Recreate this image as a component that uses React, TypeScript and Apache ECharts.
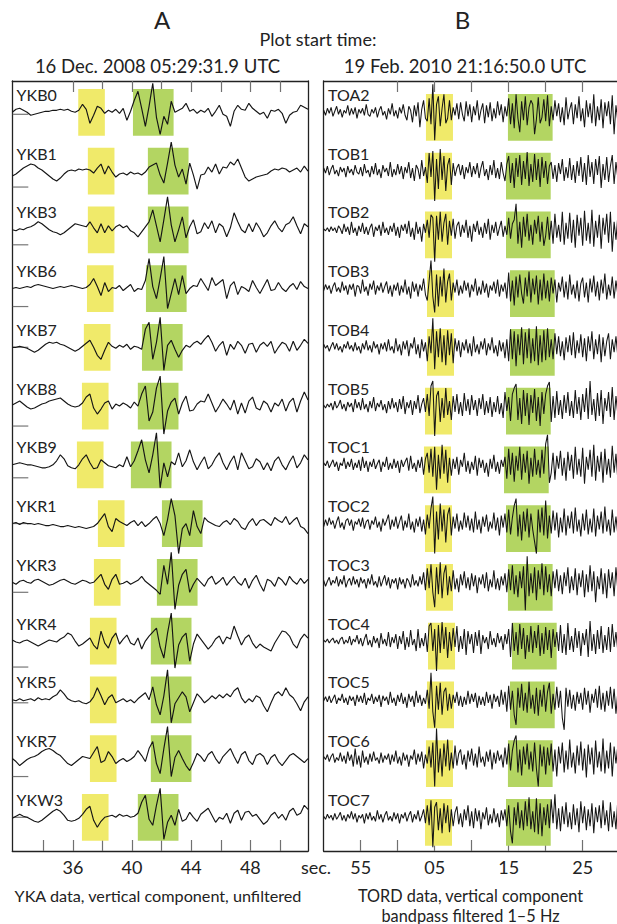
import React, { useEffect, useRef } from "react";
import * as echarts from "echarts";

const W = 617;
const H = 924;

const stationsA = ["YKB0", "YKB1", "YKB3", "YKB6", "YKB7", "YKB8", "YKB9", "YKR1", "YKR3", "YKR4", "YKR5", "YKR7", "YKW3"];
const stationsB = ["TOA2", "TOB1", "TOB2", "TOB3", "TOB4", "TOB5", "TOC1", "TOC2", "TOC3", "TOC4", "TOC5", "TOC6", "TOC7"];

const startA = 31.9;
const endA = 51.9;
const stepA = 0.25;
const startB = 50.0;
const endB = 89.64;
const stepB = 0.25;

const yellowStartA = [36.36, 37.01, 37.01, 36.95, 36.74, 36.61, 36.27, 37.69, 37.42, 37.15, 37.15, 37.15, 36.61];
const greenStartA = [40.06, 41.07, 41.07, 40.94, 40.67, 40.39, 39.92, 42.02, 41.68, 41.27, 41.27, 41.27, 40.39];
const yellowLenA = 1.8;
const greenLenA = 2.75;
const yellowStartB = [63.82, 63.69, 63.69, 63.96, 63.96, 63.69, 63.55, 63.69, 63.82, 64.1, 63.96, 63.82, 63.69];
const greenStartB = [74.9, 74.64, 74.64, 75.18, 75.18, 74.64, 74.37, 74.64, 74.9, 75.45, 75.18, 74.9, 74.64];
const yellowLenB = 3.65;
const greenLenB = 6.04;

// level of the small grey marker at the start of each A trace (amplitude units)
const zeroMarkA = [-2, -16, -15, -18, 0, -20, -13, 0, -10, -26, -3, -18, 0];

const tickValuesA = [34, 36, 38, 40, 42, 44, 46, 48, 50];
const topTickValuesA = [36, 38, 40, 42, 44, 46, 48, 50];
const labelValuesA = [36, 40, 44, 48];
const labelTextA = ["36", "40", "44", "48"];
const tickValuesB = [55, 60, 65, 70, 75, 80, 85];
const topTickValuesB = [60, 65, 70, 75, 80, 85];
const labelValuesB = [55, 65, 75, 85];
const labelTextB = ["55", "05", "15", "25"];

// ---------- Panel A waveforms (YKA, unfiltered), 0.25 s samples from 31.9 s ----------
const ykb0 = [0,3,4,2,0,-3,-2,-1,0,1,1,2,2,3,2,3,1,0,2,8,
  3,-11,-3,6,4,-1,2,0,3,-1,4,-8,1,12,21,4,-14,6,29,-5,
  -22,-4,-12,11,0,2,4,9,1,3,-1,2,0,4,-4,1,7,-2,-4,-14,
  1,7,3,2,9,4,1,-2,0,-6,2,1,3,-1,-11,-3,0,1,7,5,3];
const ykb1 = [-5,-3,0,3,5,7,6,3,1,-2,-5,-8,-10,-7,-3,0,1,0,2,1,
  2,1,-2,3,7,-3,5,-1,-6,-3,-2,-4,-1,-3,-2,-4,-1,4,6,8,
  -4,-12,8,29,6,-6,2,-13,8,-4,-18,-4,-3,4,-1,7,-3,4,3,9,
  6,12,3,-6,-10,-8,-6,-5,-4,-3,0,2,1,3,2,-1,1,3,-1,5,0];
const ykb3 = [0,-1,1,0,2,3,5,8,6,3,0,-2,-3,-5,-3,0,3,6,5,4,
  3,8,2,-3,6,-3,4,-1,3,5,2,4,-1,-3,-7,-2,3,8,20,4,
  -12,10,33,5,-12,0,13,-8,3,10,-4,-2,7,1,9,-3,6,3,-7,2,
  17,8,0,-3,6,-2,7,1,-7,-3,4,9,2,-2,5,7,13,4,-4,6,3];
const ykb6 = [0,1,0,1,2,1,3,4,3,2,1,0,1,2,1,2,3,2,1,0,
  1,4,10,2,-7,6,-3,1,0,3,-2,1,4,-3,0,-1,8,30,2,-10,
  10,32,-20,-5,10,-6,13,-5,0,3,2,10,4,-2,11,3,6,9,-10,3,
  7,-6,2,0,-3,8,1,-5,2,9,-2,-1,6,0,-3,2,5,-1,7,2,0];
const ykb7 = [0,0,1,0,-1,-3,-5,-3,0,3,5,4,5,3,2,0,-2,-4,-2,1,
  4,7,0,-8,-12,-3,5,1,-1,2,0,3,-2,1,0,-2,18,25,-12,5,
  30,-23,2,7,-2,-10,-3,2,0,4,6,3,8,12,5,-4,2,6,-8,3,
  -2,6,2,-6,3,4,-5,2,5,1,6,-6,0,5,3,-4,6,-3,2,8,4];
const ykb8 = [1,3,5,2,-1,-3,-2,0,2,3,5,6,7,8,5,2,0,-1,0,3,
  9,12,-2,-8,-3,3,5,-3,2,0,3,1,-2,4,0,12,20,-15,-6,18,
  30,-28,-5,4,8,-8,3,10,-5,-4,2,5,4,12,3,-6,0,7,2,-4,
  6,-8,3,-7,5,9,-2,-4,5,2,-6,3,0,7,-5,4,8,-6,5,14,6];
const ykb9 = [0,1,2,1,0,0,-1,-2,-3,-3,-2,0,4,10,6,-1,-3,-4,0,6,
  10,2,-4,-3,5,2,-1,-2,-3,0,-2,8,-2,4,14,25,5,-8,10,32,
  -23,2,-12,3,0,12,-2,4,15,3,-5,2,8,-4,0,7,12,2,-5,3,
  9,-5,12,4,-4,-2,6,3,-5,2,-6,4,8,0,-5,3,9,-3,2,10,5];
const ykr1 = [0,1,-1,1,0,0,-1,0,-1,-2,-2,-1,-2,-3,-3,-2,-3,-4,-3,-4,
  -5,-4,-3,0,5,10,-3,-8,5,2,0,-2,1,3,-2,2,-3,0,4,7,
  0,-12,4,25,8,-30,-5,0,-12,13,-3,-10,6,2,0,-2,-3,1,3,-1,
  5,2,-4,-6,1,5,-2,3,4,1,-2,6,3,1,7,-1,3,6,-3,-5,-10];
const ykr3 = [0,-2,1,2,0,-1,2,3,1,-1,-3,-2,0,2,3,1,-1,-2,0,2,
  1,-1,0,4,8,-2,-7,3,8,-2,-1,1,-2,0,2,6,1,-2,-5,-8,
  -12,17,-2,30,-27,-3,8,13,-10,-2,4,0,-4,3,6,-2,1,5,-3,2,
  6,0,-3,4,-6,2,7,-2,-9,3,1,-4,5,2,-3,6,1,-2,4,-1,3];
const ykr4 = [1,-1,-2,0,1,-1,-3,-5,-3,-1,1,0,-1,2,4,8,6,0,-5,-3,
  0,3,-4,-8,10,-2,-7,3,8,-3,2,6,-2,-4,3,-8,0,5,9,13,
  -6,-17,8,28,-27,-4,4,8,-20,-3,7,2,-3,-8,-4,2,5,-3,4,2,
  15,5,-4,3,6,-2,-7,-3,-6,-8,-10,-2,4,10,9,5,-3,-7,2,7,3];
const ykr5 = [0,-1,1,-1,0,1,-1,2,0,1,0,3,5,10,6,1,-1,-2,-1,-3,
  -4,-2,3,12,4,-5,2,5,-3,-1,1,-2,0,-3,1,4,7,0,13,-5,
  -15,4,30,-23,-4,2,8,3,-12,-3,6,2,-3,0,4,1,5,2,6,3,
  9,12,2,-3,1,-2,4,2,-6,-12,-3,5,8,4,12,5,2,-4,-11,-2,3];
const ykr7 = [0,-3,-7,-4,-1,1,2,4,7,9,10,8,5,3,-1,-5,-7,-4,-1,2,
  1,0,6,12,-4,-2,7,2,-5,-2,0,-3,-1,2,8,3,-3,10,17,-5,
  -15,10,32,-18,1,8,0,-7,-12,-4,5,2,-3,4,7,0,-5,2,6,10,
  2,-5,4,7,-2,-6,3,5,2,-6,1,4,-3,-7,-2,3,5,2,-1,-4,0];
const ykw3 = [-1,1,3,1,0,-2,-4,-5,-3,0,3,6,8,6,2,-3,-4,-3,-1,3,
  8,11,-3,-10,-4,0,1,2,0,3,1,2,0,1,4,15,22,-2,-8,12,
  29,-22,-5,2,-8,8,-4,-2,5,0,-4,3,6,9,2,-5,0,-2,4,-6,
  4,7,-3,5,6,1,3,-2,-7,-4,2,5,-1,3,-3,6,9,2,4,12,8];

// ---------- Panel B waveforms (TORD, 1-5 Hz), 0.25 s samples from 21:16:50 ----------
const toa2 = [2,-3,4,-1,5,-4,1,6,-2,3,-5,2,-1,7,-3,4,-2,5,-6,3,
  -1,4,-3,8,-2,-4,3,-1,5,-5,2,6,-3,1,-7,4,-2,9,-4,2,
  -6,5,-1,8,-3,-8,6,2,-10,7,-4,10,-15,3,12,-6,-9,14,-12,28,
  -28,8,16,-14,4,18,-11,-6,12,-8,5,-3,9,-7,10,-2,-9,11,-4,8,
  -10,6,-3,12,-8,2,9,-11,7,-5,10,-9,4,-6,11,-3,8,-10,6,-4,
  14,-12,9,-16,18,-6,-20,11,-8,16,-13,5,12,8,-22,-7,15,-11,-5,13,
  -9,17,-14,6,-8,12,-4,9,-10,5,-13,15,-7,3,10,-12,8,-6,16,-9,
  4,-15,12,-5,9,-11,18,-14,6,-8,13,-16,10,-4,11,-12,17,-22,7,-9];
const tob1 = [3,-2,5,-4,2,6,-3,1,-5,4,-1,3,-6,5,-2,2,-4,6,-1,-3,
  4,-5,7,-2,1,-6,5,-3,8,-4,2,-7,6,-1,3,-5,9,-6,2,-4,
  7,-3,5,-8,4,-2,9,-7,3,-10,6,2,-8,11,-5,4,-12,18,-6,20,
  -30,12,-18,22,-9,15,-20,6,13,-14,8,-5,3,7,-4,6,-8,4,-2,9,
  -6,5,-3,8,-7,3,10,-5,2,-9,6,-4,11,-7,3,-8,9,-2,-10,7,
  15,-12,8,-17,13,-6,16,-14,10,-8,19,-15,7,-11,17,-9,12,-16,14,-7,
  10,-13,5,9,-8,6,-11,8,-3,12,-10,4,-7,13,-9,6,-12,10,-5,14,
  -11,8,-14,16,-6,9,-13,12,-4,15,-17,7,-9,14,-11,5,16,-13,9,-7];
const tob2 = [1,-1,2,-2,3,-1,2,-3,4,1,-4,6,-2,3,-5,8,-3,2,-6,4,
  -2,7,-4,3,-5,2,6,-7,3,-1,5,-6,8,-3,2,-5,4,-2,7,-6,
  3,-8,5,-1,6,-4,9,-7,2,-10,8,-4,3,-12,6,-3,10,-8,15,12,
  -32,14,-10,18,-12,7,16,-15,9,-6,11,-9,4,8,-7,5,-3,10,-8,4,
  -12,6,-2,9,-5,3,-8,7,-4,11,-10,5,-3,8,-6,2,9,-7,4,-5,
  12,-9,6,10,26,-14,8,-18,13,-7,16,-11,5,-15,10,-4,14,-12,8,-16,
  -6,13,-10,9,-14,16,-8,5,-12,18,-15,7,-9,17,-13,10,-18,15,-6,12,
  -16,19,-11,7,-14,20,-17,9,-8,15,-19,12,-5,16,-13,18,-22,8,-10,14];
const tob3 = [-2,4,-1,3,-5,2,6,-3,1,-4,7,-2,3,-6,4,-1,5,-8,3,2,
  -5,9,-3,2,-7,5,-1,8,-6,3,-2,6,-4,2,7,-5,3,-8,4,-2,
  6,-7,3,-4,9,-6,2,-10,7,-3,5,-8,4,-2,10,-6,-12,8,28,-8,
  -24,14,-18,12,-8,20,-14,7,15,-12,6,-4,9,-7,3,-5,8,-2,6,-9,
  4,-3,10,-7,2,-6,8,-4,5,-9,3,-2,7,-5,9,-8,4,-3,6,-10,
  16,-13,8,-17,12,-9,14,-5,-15,11,-8,17,-14,10,-6,13,-16,9,-12,15,
  -10,8,-13,11,-5,9,-14,6,-3,12,-9,7,-11,14,-6,4,-10,8,-13,5,
  11,-9,6,-14,10,-4,13,-8,7,-12,9,-5,15,-11,4,-7,12,-10,8,-6];
const tob4 = [3,-1,2,-4,1,5,-2,4,-3,1,-5,3,-1,6,-2,2,-4,5,-3,1,
  -6,4,-2,7,-3,2,-5,6,-1,3,-7,4,-2,5,-4,8,-3,1,-6,9,
  -4,3,-8,6,-2,7,-9,4,-1,10,-7,3,-11,8,-4,5,-14,11,-6,29,
  -22,16,-10,19,-15,12,-18,17,-8,14,-16,9,-4,7,-10,5,-3,8,-6,4,
  -9,11,-5,3,-7,6,-2,9,-8,4,-3,10,-6,2,-9,7,-4,5,-11,8,
  -14,18,-12,16,-19,13,-8,20,-17,15,-11,19,-16,9,-14,21,-18,12,-15,17,
  -13,19,-10,8,-12,14,-7,11,-9,6,-13,10,-5,12,-8,15,-11,7,-6,13,
  -10,9,-14,11,-4,16,-12,8,-7,13,-15,10,-9,6,14,-12,8,-5,11,-9];
const tob5 = [1,-2,2,-1,3,-4,5,-2,1,6,-3,2,-5,4,-1,3,-6,7,-2,4,
  -4,8,-3,2,-6,5,-2,9,-5,3,-1,6,-4,2,-7,5,-3,8,-2,4,
  -6,7,-3,10,-8,4,-2,6,-9,5,-3,11,-7,2,8,-6,12,-10,20,25,
  -30,10,15,-16,8,-12,18,-9,5,-14,10,-6,12,-8,4,-10,13,-5,7,-9,
  11,-4,6,-10,8,-3,12,-9,5,-7,9,-11,4,-6,10,-8,3,-12,14,-5,
  9,-15,12,18,22,-14,8,-18,16,-10,13,-19,11,-7,17,-15,9,-20,14,-8,
  12,20,24,-16,10,-12,15,-9,6,-13,11,-7,14,-10,5,-12,16,-8,9,-14,
  12,-6,18,-13,25,-9,7,-15,13,-10,16,-18,8,-5,14,-11,19,-14,10,-8];
const toc1 = [2,-1,4,-3,1,5,-2,3,-6,2,-1,7,-4,3,-2,6,-5,2,-3,5,
  -6,8,-3,4,-7,3,-2,6,-4,1,5,-7,3,-2,8,-5,2,-4,6,-3,
  4,-8,5,-2,3,7,-6,9,-4,2,-7,5,-3,8,-10,6,12,-8,16,-12,
  18,-25,10,-14,20,-9,15,-18,7,-11,6,-4,8,-10,5,-2,12,-7,4,-9,
  3,-5,9,-11,7,-3,5,-8,2,-12,6,-4,10,-7,3,-9,5,-2,8,-14,
  16,-10,12,-17,9,-6,18,-15,11,-8,14,-19,7,-12,16,-10,5,-13,15,-9,
  21,30,-18,-8,12,-15,9,-4,14,-11,7,-16,13,-6,10,-14,18,-10,6,-12,
  17,-19,8,-5,15,-12,20,-16,9,-7,13,-18,16,-10,6,-13,19,-8,11,-15];
const toc2 = [-3,4,-2,6,-1,3,-5,2,7,-4,1,-6,3,5,-2,4,-7,2,-1,5,
  -3,6,-5,2,4,-6,3,-1,7,-4,2,-8,5,-2,3,9,-6,4,-3,7,
  -5,2,8,-7,3,-4,10,-6,2,-9,5,-3,7,-8,4,-11,9,-5,15,27,
  -30,12,-16,20,-8,14,-19,9,16,-12,7,-5,10,-8,3,-6,11,-4,8,-7,
  5,-9,12,-6,4,-10,7,-3,9,-8,2,-5,11,-7,6,-12,8,-4,10,-9,
  14,-11,6,18,25,-13,9,-17,12,-8,15,-14,10,-6,-18,-30,14,-9,16,-12,
  23,-15,8,-10,13,-7,11,-14,6,-9,15,-12,8,-5,12,-10,16,-8,4,-13,
  10,-7,14,-11,5,-9,15,-13,8,-6,12,-10,17,-8,4,-12,14,-9,7,-11];
const toc3 = [2,-4,1,5,-3,2,-1,6,-4,3,-2,7,-5,1,4,-3,6,-2,3,-5,
  5,-1,3,-6,4,-2,8,-3,1,-5,6,-4,2,7,-3,5,-6,3,-1,4,
  -7,5,-2,3,-6,4,1,-5,8,-3,2,-4,6,-2,10,-8,14,-6,18,-10,
  -25,15,-12,20,-16,9,17,-13,6,-9,12,-7,4,-10,8,-3,11,-6,5,-8,
  9,-4,7,-11,5,-2,8,-6,10,-9,3,-5,12,-7,4,-8,6,-3,9,-10,
  13,-8,17,-12,7,-15,11,-6,16,-28,26,-14,9,-11,15,-18,12,-7,19,-13,
  16,-10,8,-14,11,-6,13,-9,7,-12,10,-4,15,-11,6,-8,14,-13,9,-5,
  12,-15,8,-10,17,-9,11,-20,6,-7,14,-12,9,-16,13,-6,10,-14,15,-8];
const toc4 = [1,-1,2,-2,1,3,-2,1,-3,2,4,-3,1,-2,5,-4,2,-1,6,-3,
  3,-5,2,7,-4,1,-6,5,-2,3,-7,8,-3,2,-5,9,-6,4,-2,7,
  -8,5,-3,10,-9,4,-6,11,-4,2,-10,12,-7,3,-5,8,-11,15,18,-10,
  12,-30,16,-12,19,-8,14,-17,9,-10,13,-6,15,-11,5,-8,12,-14,10,-3,
  7,-12,9,-5,11,-13,6,-2,4,-8,10,-4,3,-6,8,-2,5,-9,7,-3,
  12,-16,18,-10,9,-14,17,-8,13,-18,6,-11,15,-12,10,-7,16,-15,8,-13,
  14,-9,11,-17,12,-6,9,-10,16,-12,7,-14,18,-9,5,-11,13,-7,10,-15,
  8,-4,12,-16,20,-10,7,-13,11,-8,15,-12,6,-9,14,-11,17,-6,9,-10];
const toc5 = [-1,3,-2,4,-3,1,5,-4,2,-1,6,-3,2,-5,4,-1,3,-6,5,-2,
  4,-3,7,-5,2,-1,6,-4,3,-2,5,-7,4,-1,3,-5,8,-3,2,-6,
  5,-2,7,-4,3,-8,6,-2,4,-7,9,-3,5,-6,2,-4,10,-9,27,-12,
  -28,14,-10,17,-15,8,12,-11,6,-9,5,-3,8,-6,4,-7,3,-5,9,-4,
  6,-2,7,-8,4,-5,3,-6,8,-3,5,-9,6,-2,4,-7,10,-5,8,-12,
  14,-10,9,-15,-25,12,-8,16,-11,7,-13,18,-9,5,-14,12,-16,10,-7,15,
  -12,8,17,-14,6,-10,13,-8,9,-18,-30,12,-7,10,-9,5,-11,8,-4,7,
  -10,12,-5,9,-13,6,-3,11,-8,14,-10,7,-12,9,-6,13,-9,11,-14,8];
const toc6 = [2,-1,4,-3,2,5,-4,1,-2,6,-3,3,-5,7,-2,4,-8,10,-6,3,
  -9,8,-4,2,-6,5,-3,7,-2,1,-5,6,-4,3,-1,5,-6,4,-3,8,
  -5,2,-7,6,-2,4,-8,3,-1,9,-6,5,-3,7,-10,4,-5,12,-9,16,
  -28,30,-14,10,-18,15,-8,19,-12,6,-10,13,-7,5,9,-6,4,-11,8,-3,
  10,-7,5,-9,12,-4,2,-8,7,-3,9,-11,6,-5,8,-2,4,-9,11,-6,
  15,-12,8,18,23,-14,9,-17,12,-6,15,-11,7,-13,16,-10,-28,14,-8,12,
  -16,11,-7,15,-13,9,-18,12,-5,16,-14,8,-11,19,-9,6,-15,13,-7,17,
  -12,10,-19,14,-6,11,-16,18,-9,7,-13,20,-15,8,-10,16,-18,12,-5,13];
const toc7 = [1,-2,3,-1,2,-3,4,-2,1,5,-3,2,-4,3,-1,6,-2,4,-5,2,
  -1,3,-6,4,-2,5,-3,1,-4,7,-2,3,-5,2,6,-3,1,-4,5,-2,
  4,-6,3,-1,5,-4,2,6,-5,3,-2,7,-4,1,8,-6,12,-8,17,-30,
  10,15,-13,9,-16,14,-6,12,-15,8,-9,5,11,-7,4,-10,8,-3,12,-9,
  6,-11,9,-4,7,-12,5,-2,10,-8,3,-6,9,-5,4,-10,7,-3,8,-9,
  12,-14,-26,10,-8,15,-11,7,-13,16,-9,20,-12,6,-15,19,-17,14,-19,10,
  -8,13,-11,18,-6,23,-12,9,-14,11,-7,15,-10,5,-12,13,-8,9,-15,16,
  -6,11,-13,8,-9,14,-16,10,-5,12,-11,17,-8,7,-14,15,-10,6,-12,18];

const tracesA = [ykb0, ykb1, ykb3, ykb6, ykb7, ykb8, ykb9, ykr1, ykr3, ykr4, ykr5, ykr7, ykw3];
const tracesB = [toa2, tob1, tob2, tob3, tob4, tob5, toc1, toc2, toc3, toc4, toc5, toc6, toc7];

// ---------- layout ----------
const GRID_TOP = 81;
const GRID_BOTTOM = 851;
const SLOT = 58.75; // px between traces
const Y_MAX = (GRID_BOTTOM - GRID_TOP) / SLOT;
const FIRST = (112.3 - GRID_TOP) / SLOT;
const base = (i: number) => FIRST + i;
const BOX_H = 46.7;
const FONT = "Lato, 'Open Sans', sans-serif";
const INK = "#222";
const YELLOW = "#f0ea6a";
const GREEN = "#b3d562";

function traceSeries(values: number[], start: number, step: number, i: number, axis: number) {
  return {
    type: "line",
    xAxisIndex: axis === 0 ? 0 : 2,
    yAxisIndex: axis === 0 ? 0 : 2,
    showSymbol: false,
    symbol: "none",
    silent: true,
    clip: true,
    z: 3,
    lineStyle: { color: "#151515", width: axis === 0 ? 1.15 : 1.05 },
    data: values.map((v, k) => [start + k * step, base(i) - v / SLOT]),
  };
}

function boxSeries(starts: number[], len: number, color: string, axis: number, shift: number) {
  return {
    type: "custom",
    xAxisIndex: axis === 0 ? 0 : 2,
    yAxisIndex: axis === 0 ? 0 : 2,
    silent: true,
    z: 1,
    data: starts.map((s, i) => [s, s + len, base(i)]),
    encode: { x: [0, 1], y: 2 },
    renderItem: (_p: any, api: any) => {
      const a = api.coord([api.value(0), api.value(2)]);
      const b = api.coord([api.value(1), api.value(2)]);
      return {
        type: "rect",
        shape: { x: a[0], y: a[1] + shift - BOX_H / 2, width: b[0] - a[0], height: BOX_H },
        style: { fill: color },
      };
    },
  };
}

function labelSeries(names: string[], xmin: number, axis: number, dx: number) {
  return {
    type: "custom",
    xAxisIndex: axis === 0 ? 0 : 2,
    yAxisIndex: axis === 0 ? 0 : 2,
    silent: true,
    z: 5,
    data: names.map((_n, i) => [xmin, base(i)]),
    encode: { x: 0, y: 1 },
    renderItem: (params: any, api: any) => {
      const p = api.coord([api.value(0), api.value(1)]);
      return {
        type: "text",
        x: p[0] + dx,
        y: p[1] - 18,
        style: {
          text: names[params.dataIndex],
          fill: INK,
          font: `16px ${FONT}`,
          align: "left",
          verticalAlign: "middle",
          textAlign: "left",
          textVerticalAlign: "middle",
        },
      };
    },
  };
}

function markSeries() {
  return {
    type: "custom",
    xAxisIndex: 0,
    yAxisIndex: 0,
    silent: true,
    z: 2,
    data: zeroMarkA.map((v, i) => [startA, base(i) - v / SLOT]),
    encode: { x: 0, y: 1 },
    renderItem: (_p: any, api: any) => {
      const c = api.coord([api.value(0), api.value(1)]);
      return {
        type: "line",
        shape: { x1: c[0] + 0.5, y1: c[1], x2: c[0] + 16, y2: c[1] },
        style: { stroke: "#777", lineWidth: 1.2 },
      };
    },
  };
}

function labelFor(values: number[], texts: string[]) {
  return (v: number) => {
    const k = values.findIndex((x) => Math.abs(x - v) < 1e-6);
    return k >= 0 ? texts[k] : "";
  };
}

function xAxisDef(grid: number, pos: "top" | "bottom", min: number, max: number, ticks: number[], labels: number[] | null, texts: string[] | null) {
  return {
    type: "value",
    gridIndex: grid,
    position: pos,
    min,
    max,
    axisLine: { show: true, onZero: false, lineStyle: { color: INK, width: 1.3 } },
    axisTick: { show: true, inside: true, length: 11, customValues: ticks, lineStyle: { color: "#707070", width: 1.2 } },
    axisLabel: labels
      ? {
          show: true,
          customValues: labels,
          formatter: labelFor(labels, texts as string[]),
          margin: 7,
          color: INK,
          fontSize: 18,
          fontFamily: FONT,
        }
      : { show: false },
    splitLine: { show: false },
  };
}

function yAxisDef(grid: number, pos: "left" | "right") {
  return {
    type: "value",
    gridIndex: grid,
    position: pos,
    min: 0,
    max: Y_MAX,
    inverse: true,
    axisLine: { show: true, onZero: false, lineStyle: { color: INK, width: 1.3 } },
    axisTick: { show: false },
    axisLabel: { show: false },
    splitLine: { show: false },
  };
}

function textEl(text: string, x: number, y: number, size: number) {
  return {
    type: "text",
    x,
    y,
    style: {
      text,
      fill: INK,
      font: `${size}px ${FONT}`,
      align: "center",
      verticalAlign: "middle",
      textAlign: "center",
      textVerticalAlign: "middle",
    },
  };
}

export default function App() {
  const ref = useRef<HTMLDivElement>(null);
  useEffect(() => {
    if (!ref.current) return;
    const chart = echarts.init(ref.current, undefined, { renderer: "svg" });
    const series: any[] = [
      boxSeries(yellowStartA, yellowLenA, YELLOW, 0, 0),
      boxSeries(greenStartA, greenLenA, GREEN, 0, 0),
      boxSeries(yellowStartB, yellowLenB, YELLOW, 1, 5),
      boxSeries(greenStartB, greenLenB, GREEN, 1, 5),
      markSeries(),
      ...tracesA.map((t, i) => traceSeries(t, startA, stepA, i, 0)),
      ...tracesB.map((t, i) => traceSeries(t, startB, stepB, i, 1)),
      labelSeries(stationsA, startA, 0, 4.3),
      labelSeries(stationsB, startB, 1, 4.3),
    ];
    chart.setOption({
      animation: false,
      backgroundColor: "#fff",
      grid: [
        { left: 12.3, right: W - 308, top: GRID_TOP, bottom: H - GRID_BOTTOM },
        { left: 323.7, right: 0, top: GRID_TOP, bottom: H - GRID_BOTTOM },
      ],
      xAxis: [
        xAxisDef(0, "bottom", startA, endA, tickValuesA, labelValuesA, labelTextA),
        xAxisDef(0, "top", startA, endA, topTickValuesA, null, null),
        xAxisDef(1, "bottom", startB, endB, tickValuesB, labelValuesB, labelTextB),
        xAxisDef(1, "top", startB, endB, topTickValuesB, null, null),
      ],
      yAxis: [yAxisDef(0, "left"), yAxisDef(0, "right"), yAxisDef(1, "left")],
      graphic: [
        textEl("A", 162, 19, 24),
        textEl("B", 462.5, 19, 24),
        textEl("Plot start time:", 318, 38.5, 18),
        textEl("16 Dec. 2008 05:29:31.9 UTC", 157.5, 66, 18.5),
        textEl("19 Feb. 2010 21:16:50.0 UTC", 465, 66, 18.5),
        textEl("sec.", 316, 867, 18),
        textEl("YKA data, vertical component, unfiltered", 158, 895, 16.2),
        textEl("TORD data, vertical component", 470.5, 895, 16.3),
        textEl("bandpass filtered 1\u20135 Hz", 470.5, 915, 16.3),
      ],
      series,
    });
    return () => chart.dispose();
  }, []);
  return (
    <div
      ref={ref}
      style={{ position: "absolute", left: 0, top: 0, width: W, height: H, background: "#fff" }}
    />
  );
}
